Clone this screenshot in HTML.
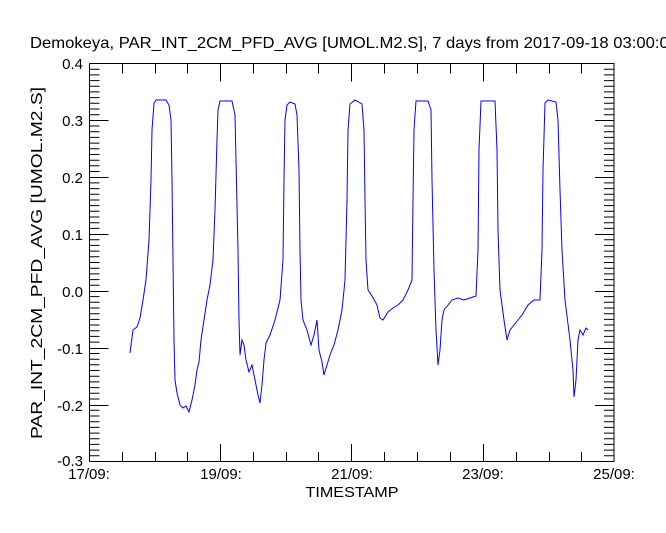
<!DOCTYPE html>
<html><head><style>body{margin:0;background:#fff}svg{display:block}text{font-family:"Liberation Sans",sans-serif;font-size:15px;fill:#000}</style></head>
<body>
<svg width="666" height="533" xmlns="http://www.w3.org/2000/svg">
<text x="30" y="48" textLength="648" lengthAdjust="spacingAndGlyphs" style="font-size:16px">Demokeya, PAR_INT_2CM_PFD_AVG [UMOL.M2.S], 7 days from  2017-09-18 03:00:00</text>
<rect x="89.5" y="63.5" width="524.5" height="398" fill="none" stroke="#000" stroke-width="1"/>
<g text-anchor="end">
<text x="83" y="69">0.4</text><text x="83" y="126">0.3</text><text x="83" y="183">0.2</text><text x="83" y="240">0.1</text><text x="83" y="297">0.0</text><text x="83" y="354">-0.1</text><text x="83" y="411">-0.2</text><text x="83" y="466">-0.3</text>
</g>
<g text-anchor="middle">
<text x="89" y="479">17/09:</text><text x="221" y="479">19/09:</text><text x="352" y="479">21/09:</text><text x="483" y="479">23/09:</text><text x="614" y="479">25/09:</text>
<text x="352" y="497" textLength="93" lengthAdjust="spacingAndGlyphs">TIMESTAMP</text>
</g>
<text transform="translate(42,263) rotate(-90)" text-anchor="middle" textLength="352" lengthAdjust="spacingAndGlyphs" style="font-size:16px">PAR_INT_2CM_PFD_AVG [UMOL.M2.S]</text>
<polyline fill="none" stroke="#0000ff" stroke-width="1" points="130,353 133,330 137,327 140,318 143,300 146,280 149,240 151,180 152,130 154,103 156,100 166,100 169,105 171,120 172,180 173,260 174,340 175,380 177,393 180,405 183,408 186,406 189,412 192,400 195,385 197,370 199,362 201,340 204,320 207,300 210,285 213,260 215,210 217,140 218,110 220,101 232,101 235,115 236,160 238,250 239,320 240,355 242,340 244,345 246,360 249,372 252,365 255,380 258,395 260,403 262,385 264,360 266,343 270,335 275,320 280,300 283,260 284,180 285,120 287,105 290,102 295,104 297,115 299,170 300,250 301,300 303,320 307,330 311,345 314,335 317,320 319,350 322,362 324,375 327,365 330,355 334,345 338,330 342,310 345,280 347,200 348,130 350,104 355,100 362,104 364,130 365,200 366,260 368,290 372,296 377,305 380,318 383,320 388,312 393,308 398,305 403,300 408,290 412,280 413,200 414,130 416,101 428,101 431,110 432,180 434,270 436,330 438,365 440,350 442,320 444,310 448,305 452,300 458,298 464,300 470,298 476,296 478,250 479,150 481,101 495,101 497,150 498,230 500,290 504,320 507,340 510,330 514,325 518,320 522,315 528,305 534,300 540,300 542,250 543,170 545,103 548,100 556,102 558,120 560,190 562,250 565,300 570,340 573,370 574,397 576,380 578,340 580,330 583,335 586,328 588,330"/>
<path stroke="#000" stroke-width="1" fill="none" d="
M89.5,120.5h19M89.5,177.5h19M89.5,234.5h19M89.5,291.5h19M89.5,348.5h19M89.5,405.5h19
M614,120.5h-19M614,177.5h-19M614,234.5h-19M614,291.5h-19M614,348.5h-19M614,405.5h-19
M220.5,462v-18M351.5,462v-18M483.5,462v-18
M220.5,63.5v18M351.5,63.5v18M483.5,63.5v18
M122.5,462v-10M155.5,462v-10M187.5,462v-10M253.5,462v-10M286.5,462v-10M318.5,462v-10M384.5,462v-10M417.5,462v-10M450.5,462v-10M516.5,462v-10M549.5,462v-10M581.5,462v-10
M122.5,63.5v10M155.5,63.5v10M187.5,63.5v10M253.5,63.5v10M286.5,63.5v10M318.5,63.5v10M384.5,63.5v10M417.5,63.5v10M450.5,63.5v10M516.5,63.5v10M549.5,63.5v10M581.5,63.5v10"/>
<path id="minors" stroke="#000" stroke-width="1" fill="none" d=""/>
<script>
var d="";for(var i=1;i<70;i++){if(i%10==0)continue;var y=(63.5+i*398/70).toFixed(1);d+="M89.5,"+y+"h10M614,"+y+"h-10";}
document.getElementById("minors").setAttribute("d",d);
</script>
</svg>
</body></html>
